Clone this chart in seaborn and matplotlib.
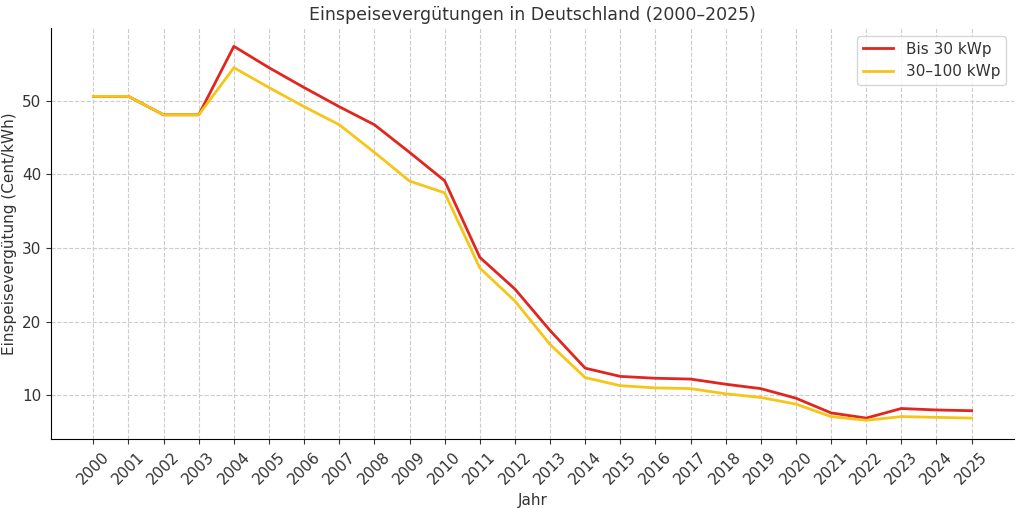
import matplotlib
matplotlib.use("Agg")
import matplotlib.pyplot as plt
import seaborn as sns
import pandas as pd

years = list(range(2000, 2026))
bis30 = [50.6, 50.6, 48.1, 48.1, 57.4, 54.5, 51.8, 49.2, 46.75, 43.0, 39.14, 28.74, 24.43,
         18.8, 13.68, 12.56, 12.31, 12.2, 11.5, 10.9, 9.6, 7.6, 6.9, 8.2, 8.0, 7.9]
bis100 = [50.6, 50.6, 48.1, 48.1, 54.5, 51.8, 49.2, 46.75, 43.0, 39.1, 37.5, 27.3, 22.8,
          16.9, 12.4, 11.3, 11.0, 10.9, 10.2, 9.7, 8.8, 7.1, 6.6, 7.1, 7.0, 6.9]

plt.rcParams["text.color"] = "#333333"
plt.rcParams["axes.labelcolor"] = "#333333"
plt.rcParams["xtick.color"] = "#333333"
plt.rcParams["ytick.color"] = "#333333"

df = pd.DataFrame({"Jahr": years, "Bis 30 kWp": bis30, "30–100 kWp": bis100})
long = df.melt("Jahr", var_name="Anlage", value_name="Wert")

fig, ax = plt.subplots(figsize=(10.24, 5.08), dpi=100)
sns.lineplot(data=long, x="Jahr", y="Wert", hue="Anlage",
             palette={"Bis 30 kWp": "#e0261e", "30–100 kWp": "#f5c518"},
             linewidth=2, ax=ax)
ax.set_xticks(years)
ax.set_xticklabels([str(y) for y in years], rotation=45, fontsize=11)
ax.tick_params(axis="y", labelsize=11)
ax.set_ylim(4.0, 59.9)
ax.set_xlim(1998.8, 2026.2)
ax.set_yticks([10, 20, 30, 40, 50])
ax.grid(True, linestyle="--", color="#cccccc", linewidth=0.8)
ax.set_xlabel("Jahr", fontsize=11)
ax.set_ylabel("Einspeisevergütung (Cent/kWh)", fontsize=11)
ax.set_title("Einspeisevergütungen in Deutschland (2000–2025)", fontsize=12.5)
ax.spines["top"].set_visible(False)
ax.spines["right"].set_visible(False)
ax.legend(title=None, loc="upper right", fontsize=11)
fig.subplots_adjust(left=0.05, right=0.99, top=0.945, bottom=0.135)
fig.savefig("out.png", dpi=100)
